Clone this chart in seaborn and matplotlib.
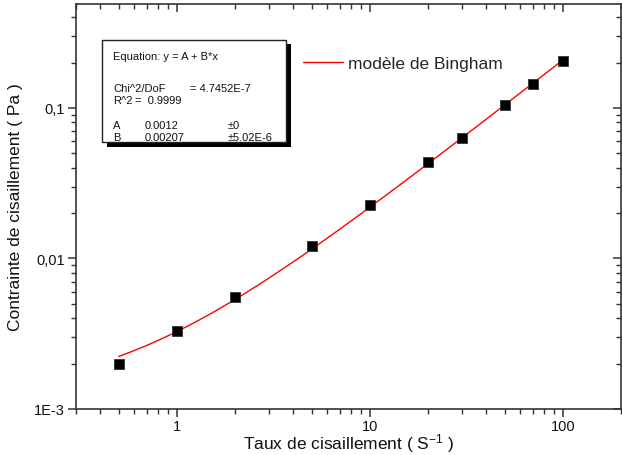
import numpy as np
import pandas as pd
import matplotlib
matplotlib.use("Agg")
import matplotlib.pyplot as plt
from matplotlib.patches import Rectangle
from matplotlib.ticker import FixedLocator, FixedFormatter, LogLocator, NullFormatter
import seaborn as sns

# Measured shear stress vs shear rate
shear_rate = [0.5, 1, 2, 5, 10, 20, 30, 50, 70, 100]
shear_stress = [0.00199, 0.0033, 0.00555, 0.0121, 0.0226, 0.0437, 0.0632, 0.105, 0.144, 0.205]

# Bingham fit parameters (y = A + B*x)
fit_A = 0.0012
fit_B = 0.00207

x_ticks = [1, 10, 100]
x_ticklabels = ["1", "10", "100"]
y_ticks = [0.001, 0.01, 0.1]
y_ticklabels = ["1E-3", "0,01", "0,1"]

sns.set_theme(style="white")
plt.rcParams["font.family"] = ["Liberation Sans", "DejaVu Sans"]
plt.rcParams["mathtext.default"] = "regular"

fig = plt.figure(figsize=(6.22, 4.56), dpi=100)
ax = fig.add_axes([76 / 622, 46 / 456, 545 / 622, 405 / 456])

df = pd.DataFrame({"rate": shear_rate, "stress": shear_stress})
fit_x = np.geomspace(min(shear_rate), max(shear_rate), 200)
fit_df = pd.DataFrame({"rate": fit_x, "stress": fit_A + fit_B * fit_x})

sns.lineplot(data=fit_df, x="rate", y="stress", ax=ax, color="#ff0000", lw=1.0,
             label="modèle de Bingham")
sns.scatterplot(data=df, x="rate", y="stress", ax=ax, marker="s", s=60,
                color="black", edgecolor="#333333", linewidth=0.6, zorder=3)

ax.set_xscale("log")
ax.set_yscale("log")
ax.set_xlim(0.3, 200)
ax.set_ylim(0.001, 0.49)

ax.xaxis.set_major_locator(FixedLocator(x_ticks))
ax.xaxis.set_major_formatter(FixedFormatter(x_ticklabels))
ax.yaxis.set_major_locator(FixedLocator(y_ticks))
ax.yaxis.set_major_formatter(FixedFormatter(y_ticklabels))
ax.xaxis.set_minor_locator(LogLocator(base=10, subs=np.arange(2, 10)))
ax.yaxis.set_minor_locator(LogLocator(base=10, subs=np.arange(2, 10)))
ax.xaxis.set_minor_formatter(NullFormatter())
ax.yaxis.set_minor_formatter(NullFormatter())

for s in ax.spines.values():
    s.set_color("#333333")
    s.set_linewidth(1.2)

ax.tick_params(axis="both", which="major", direction="out", length=6, width=1.1,
               color="#333333", labelsize=10.5, labelcolor="#111111", pad=2)
ax.tick_params(axis="x", which="major", pad=1)
ax.tick_params(axis="both", which="minor", direction="out", length=3.5, width=1.0,
               color="#333333")
ax.tick_params(axis="y", which="both", left=True, right=True)
ax.tick_params(axis="x", which="both", bottom=True, top=True)

# mirrored ticks point inward on the right and top
for t in ax.yaxis.get_major_ticks() + ax.yaxis.get_minor_ticks():
    t.tick2line.set_marker(matplotlib.lines.TICKLEFT)
for t in ax.xaxis.get_major_ticks() + ax.xaxis.get_minor_ticks():
    t.tick2line.set_marker(matplotlib.lines.TICKDOWN)

ax.set_xlabel("Taux de cisaillement ( S$^{-1}$ )", fontsize=12.5,
              color="#111111", labelpad=-1)
ax.set_ylabel("Contrainte de cisaillement ( Pa )", fontsize=12.5, color="#111111",
              labelpad=8)

leg = ax.legend(loc="upper left", bbox_to_anchor=(227 / 545, 1 - 52 / 405),
                frameon=False, fontsize=12.5, handlelength=2.3, handletextpad=0.3,
                borderpad=0, borderaxespad=0)

# fit report box with drop shadow
def fx(px):
    return px / 622

def fy(py):
    return 1 - py / 456

shadow = Rectangle((fx(107), fy(148)), fx(291) - fx(107), fy(45) - fy(148),
                   transform=fig.transFigure, facecolor="black", edgecolor="none",
                   zorder=5)
box = Rectangle((fx(102), fy(143)), fx(286) - fx(102), fy(41) - fy(143),
                transform=fig.transFigure, facecolor="white", edgecolor="#222222",
                linewidth=1.0, zorder=6)
fig.add_artist(shadow)
fig.add_artist(box)

fs = 8.0
rows = [
    (113, 57, "Equation: y = A + B*x"),
    (113, 89, "Chi^2/DoF"), (190, 89, "= 4.7452E-7"),
    (113, 101, "R^2"), (135, 101, "=  0.9999"),
    (113, 126, "A"), (145, 126, "0.0012"), (228, 126, "±0"),
    (113, 138, "B"), (145, 138, "0.00207"), (228, 138, "±5.02E-6"),
]
for px, py, s in rows:
    fig.text(fx(px), fy(py), s, fontsize=fs, color="#111111", ha="left",
             va="center", zorder=7)

fig.savefig("out.png", dpi=100)
